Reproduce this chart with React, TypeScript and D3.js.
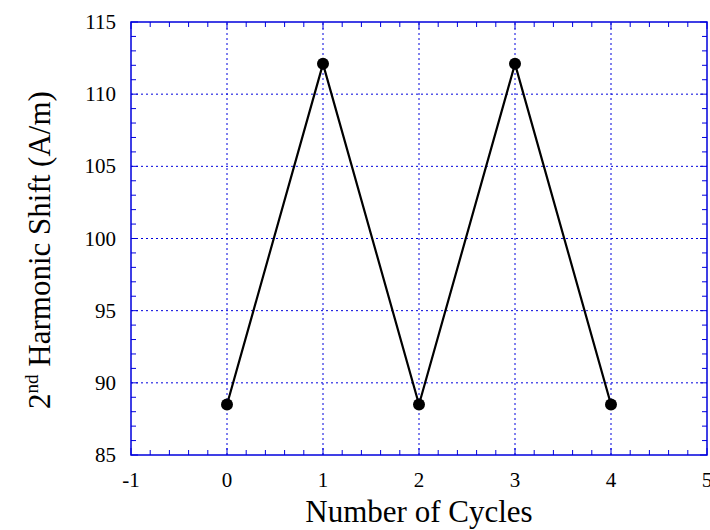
import * as d3 from "d3";
import { useEffect, useRef } from "react";

const cycles = [0, 1, 2, 3, 4];
const shift = [88.5, 112.1, 88.5, 112.1, 88.5];
const xTicks = [-1, 0, 1, 2, 3, 4, 5];
const yTicks = [85, 90, 95, 100, 105, 110, 115];

const App = () => {
  const svgRef = useRef<SVGSVGElement>(null);

  useEffect(() => {
    if (!svgRef.current) return;
    const svg = d3.select(svgRef.current);
    svg.selectAll("*").remove();

    const width = 710;
    const height = 530;
    const margin = { top: 22, right: 3, bottom: 75, left: 131 };
    const blue = "#0000dd";
    const font = "'Liberation Serif', 'Times New Roman', serif";

    const x = d3.scaleLinear().domain([-1, 5]).range([margin.left, width - margin.right]);
    const y = d3.scaleLinear().domain([85, 115]).range([height - margin.bottom, margin.top]);

    const g = svg.append("g");

    // Grid lines
    xTicks.slice(1, -1).forEach(t => {
      g.append("line")
        .attr("x1", x(t)).attr("x2", x(t))
        .attr("y1", y(85)).attr("y2", y(115))
        .attr("stroke", blue).attr("stroke-width", 1)
        .attr("stroke-dasharray", "2,3");
    });
    yTicks.slice(1, -1).forEach(t => {
      g.append("line")
        .attr("x1", x(-1)).attr("x2", x(5))
        .attr("y1", y(t)).attr("y2", y(t))
        .attr("stroke", blue).attr("stroke-width", 1)
        .attr("stroke-dasharray", "2,3");
    });

    // Minor + major ticks (inward)
    const xMinor = d3.range(-1, 5.0001, 0.2);
    xMinor.forEach(t => {
      const isMajor = Math.abs(t - Math.round(t)) < 1e-6;
      const len = isMajor ? 7 : 5;
      g.append("line")
        .attr("x1", x(t)).attr("x2", x(t))
        .attr("y1", y(85)).attr("y2", y(85) - len)
        .attr("stroke", blue);
      g.append("line")
        .attr("x1", x(t)).attr("x2", x(t))
        .attr("y1", y(115)).attr("y2", y(115) + len)
        .attr("stroke", blue);
    });
    const yMinor = d3.range(85, 115.0001, 1);
    yMinor.forEach(t => {
      const isMajor = t % 5 === 0;
      const len = isMajor ? 7 : 5;
      g.append("line")
        .attr("x1", x(-1)).attr("x2", x(-1) + len)
        .attr("y1", y(t)).attr("y2", y(t))
        .attr("stroke", blue);
      g.append("line")
        .attr("x1", x(5)).attr("x2", x(5) - len)
        .attr("y1", y(t)).attr("y2", y(t))
        .attr("stroke", blue);
    });

    // Frame
    g.append("rect")
      .attr("x", x(-1)).attr("y", y(115))
      .attr("width", x(5) - x(-1)).attr("height", y(85) - y(115))
      .attr("fill", "none").attr("stroke", blue).attr("stroke-width", 1.5);

    // Tick labels
    xTicks.forEach(t => {
      g.append("text")
        .attr("x", x(t)).attr("y", y(85) + 32)
        .attr("text-anchor", "middle")
        .attr("font-family", font).attr("font-size", 21)
        .attr("fill", "#000")
        .text(t);
    });
    yTicks.forEach(t => {
      g.append("text")
        .attr("x", x(-1) - 15).attr("y", y(t) + 7)
        .attr("text-anchor", "end")
        .attr("font-family", font).attr("font-size", 21)
        .attr("fill", "#000")
        .text(t);
    });

    // Axis titles
    g.append("text")
      .attr("x", (x(-1) + x(5)) / 2).attr("y", 522)
      .attr("text-anchor", "middle")
      .attr("font-family", font).attr("font-size", 31)
      .text("Number of Cycles");

    const yt = g.append("text")
      .attr("transform", `translate(50,250) rotate(-90)`)
      .attr("text-anchor", "middle")
      .attr("font-family", font).attr("font-size", 31);
    yt.append("tspan").text("2");
    yt.append("tspan").attr("font-size", 19).attr("dy", -12).text("nd");
    yt.append("tspan").attr("dy", 12).text(" Harmonic Shift (A/m)");

    // Data line
    const pts = cycles.map((c, i) => [c, shift[i]] as [number, number]);
    const line = d3.line<[number, number]>().x(d => x(d[0])).y(d => y(d[1]));
    g.append("path")
      .datum(pts)
      .attr("d", line)
      .attr("fill", "none")
      .attr("stroke", "#000")
      .attr("stroke-width", 2.2);

    g.selectAll(".dot")
      .data(pts)
      .join("circle")
      .attr("class", "dot")
      .attr("cx", d => x(d[0]))
      .attr("cy", d => y(d[1]))
      .attr("r", 6)
      .attr("fill", "#000");
  }, []);

  return (
    <svg
      ref={svgRef}
      width={710}
      height={530}
      style={{ position: "absolute", left: 0, top: 0, background: "#fff" }}
    />
  );
};

export default App;
